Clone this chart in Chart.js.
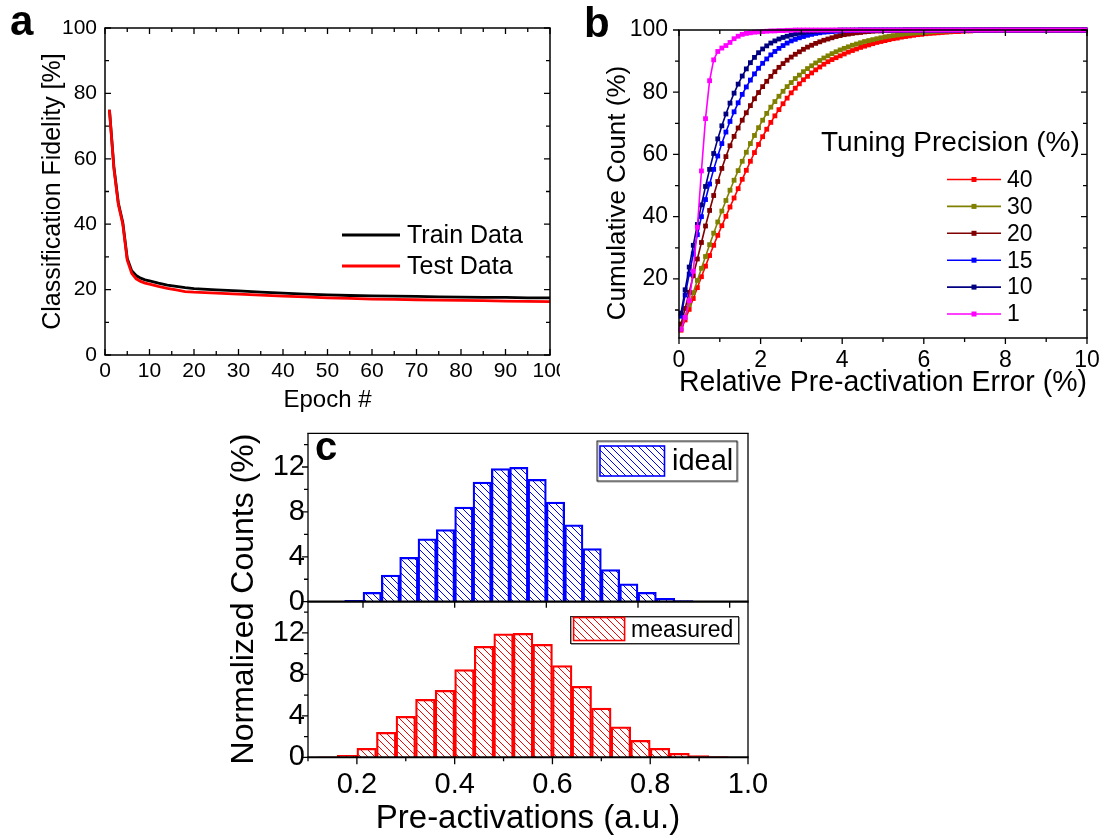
<!DOCTYPE html>
<html>
<head>
<meta charset="utf-8">
<script src="https://cdn.jsdelivr.net/npm/chart.js@4.4.0/dist/chart.umd.min.js"></script>
<style>
  html, body { margin: 0; padding: 0; background: #fff; }
  #fig { position: relative; width: 1106px; height: 839px; overflow: hidden; background: #fff; }
  #fig canvas { position: absolute; }
</style>
</head>
<body>
<div id="fig">
  <canvas id="panelA" width="560" height="420" style="left:0;top:0;width:560px;height:420px"></canvas>
  <canvas id="panelB" width="526" height="420" style="left:580px;top:0;width:526px;height:420px"></canvas>
  <canvas id="panelCLow" width="560" height="419" style="left:220px;top:420px;width:560px;height:419px"></canvas>
  <canvas id="panelCUp" width="560" height="419" style="left:220px;top:420px;width:560px;height:419px"></canvas>
</div>
<script>
const FONT = '"Liberation Sans", Arial, Helvetica, sans-serif';

// ---------- (a) training curves ----------
const epochs = [1, 2, 3, 4, 5, 6, 7, 8, 9, 10, 12, 14, 16, 18, 20, 25, 30, 35, 40, 45, 50, 55, 60, 65, 70, 75, 80, 85, 90, 95, 100];
const trainFidelity = [75, 57.5, 46.5, 40.5, 29.5, 25.8, 24.3, 23.5, 23.0, 22.7, 22.0, 21.4, 21.0, 20.6, 20.3, 19.9, 19.6, 19.2, 18.9, 18.6, 18.4, 18.2, 18.1, 18.0, 17.9, 17.8, 17.7, 17.6, 17.6, 17.5, 17.5];
const testFidelity = [75, 57, 46, 40, 29, 25, 23.3, 22.5, 22.0, 21.7, 21.0, 20.4, 19.9, 19.4, 19.2, 18.9, 18.6, 18.3, 18.0, 17.8, 17.5, 17.3, 17.1, 17.0, 16.9, 16.8, 16.7, 16.6, 16.5, 16.4, 16.3];
const epochTicks = [0, 10, 20, 30, 40, 50, 60, 70, 80, 90, 100];
const epochMinor = [5, 15, 25, 35, 45, 55, 65, 75, 85, 95];
const fidelityTicks = [0, 20, 40, 60, 80, 100];
const fidelityMinor = [10, 30, 50, 70, 90];

// ---------- (b) cumulative error distributions ----------
const errorGrid = [
  0.05, 0.15, 0.25, 0.35, 0.45, 0.55, 0.65, 0.75, 0.85, 0.95,
  1.05, 1.15, 1.25, 1.35, 1.45, 1.55, 1.65, 1.75, 1.85, 1.95,
  2.05, 2.15, 2.25, 2.35, 2.45, 2.55, 2.65, 2.75, 2.85, 2.95,
  3.05, 3.15, 3.25, 3.35, 3.45, 3.55, 3.65, 3.75, 3.85, 3.95,
  4.05, 4.15, 4.25, 4.35, 4.45, 4.55, 4.65, 4.75, 4.85, 4.95,
  5.05, 5.15, 5.25, 5.35, 5.45, 5.55, 5.65, 5.75, 5.85, 5.95,
  6.05, 6.15, 6.25, 6.35, 6.45, 6.55, 6.65, 6.75, 6.85, 6.95,
  7.05, 7.15, 7.25, 7.35, 7.45, 7.55, 7.65, 7.75, 7.85, 7.95,
  8.05, 8.15, 8.25, 8.35, 8.45, 8.55, 8.65, 8.75, 8.85, 8.95,
  9.05, 9.15, 9.25, 9.35, 9.45, 9.55, 9.65, 9.75, 9.85, 9.95
];
const precisionLabels = ['40', '30', '20', '15', '10', '1'];
const cumP40 = [
  3.5, 6.8, 10.2, 13.7, 17.2, 20.7, 24.1, 27.5, 30.8, 34.0,
  37.1, 40.1, 43.1, 46.0, 49.0, 52.0, 54.9, 57.8, 60.6, 63.2,
  65.7, 68.1, 70.3, 72.4, 74.4, 76.3, 78.1, 79.8, 81.3, 82.7,
  84.0, 85.1, 86.2, 87.2, 88.1, 89.0, 89.8, 90.5, 91.1, 91.7,
  92.3, 92.9, 93.4, 93.9, 94.4, 94.8, 95.2, 95.6, 96.0, 96.3,
  96.6, 96.9, 97.2, 97.4, 97.7, 97.9, 98.1, 98.3, 98.5, 98.6,
  98.8, 98.9, 99.0, 99.1, 99.2, 99.3, 99.4, 99.5, 99.5, 99.6,
  99.7, 99.7, 99.8, 99.8, 99.8, 99.9, 99.9, 99.9, 100, 100,
  100, 100, 100, 100, 100, 100, 100, 100, 100, 100,
  100, 100, 100, 100, 100, 100, 100, 100, 100, 100
];
const cumP30 = [
  4.0, 7.8, 11.7, 15.6, 19.5, 23.4, 27.2, 31.0, 34.7, 38.3,
  41.8, 45.2, 48.5, 51.7, 54.8, 57.8, 60.7, 63.5, 66.1, 68.6,
  71.0, 73.2, 75.2, 77.0, 78.7, 80.3, 81.8, 83.1, 84.4, 85.5,
  86.6, 87.6, 88.5, 89.4, 90.2, 91.0, 91.7, 92.4, 93.0, 93.6,
  94.1, 94.6, 95.1, 95.5, 95.9, 96.3, 96.6, 96.9, 97.2, 97.5,
  97.8, 98.0, 98.2, 98.4, 98.6, 98.8, 98.9, 99.0, 99.1, 99.2,
  99.3, 99.4, 99.5, 99.6, 99.6, 99.7, 99.7, 99.8, 99.8, 99.9,
  99.9, 99.9, 100, 100, 100, 100, 100, 100, 100, 100,
  100, 100, 100, 100, 100, 100, 100, 100, 100, 100,
  100, 100, 100, 100, 100, 100, 100, 100, 100, 100
];
const cumP20 = [
  5.5, 10.5, 15.7, 21.0, 26.4, 31.7, 37.0, 42.0, 46.8, 51.3,
  55.5, 59.3, 62.8, 65.8, 68.5, 71.0, 73.4, 75.7, 77.9, 79.9,
  81.8, 83.5, 85.1, 86.6, 88.0, 89.2, 90.3, 91.3, 92.2, 93.0,
  93.8, 94.5, 95.1, 95.7, 96.2, 96.7, 97.1, 97.5, 97.9, 98.2,
  98.5, 98.7, 98.9, 99.1, 99.2, 99.4, 99.5, 99.6, 99.7, 99.7,
  99.8, 99.8, 99.9, 99.9, 99.9, 100, 100, 100, 100, 100,
  100, 100, 100, 100, 100, 100, 100, 100, 100, 100,
  100, 100, 100, 100, 100, 100, 100, 100, 100, 100,
  100, 100, 100, 100, 100, 100, 100, 100, 100, 100,
  100, 100, 100, 100, 100, 100, 100, 100, 100, 100
];
const cumP15 = [
  8.0, 14.8, 21.5, 28.0, 34.2, 40.0, 45.5, 50.5, 55.2, 59.5,
  63.5, 67.2, 70.6, 73.7, 76.6, 79.3, 81.7, 83.9, 85.9, 87.7,
  89.3, 90.7, 92.0, 93.1, 94.1, 95.0, 95.8, 96.5, 97.0, 97.5,
  97.9, 98.3, 98.6, 98.9, 99.1, 99.3, 99.4, 99.5, 99.6, 99.7,
  99.8, 99.8, 99.9, 99.9, 100, 100, 100, 100, 100, 100,
  100, 100, 100, 100, 100, 100, 100, 100, 100, 100,
  100, 100, 100, 100, 100, 100, 100, 100, 100, 100,
  100, 100, 100, 100, 100, 100, 100, 100, 100, 100,
  100, 100, 100, 100, 100, 100, 100, 100, 100, 100,
  100, 100, 100, 100, 100, 100, 100, 100, 100, 100
];
const cumP10 = [
  9.0, 16.5, 23.8, 30.8, 37.5, 43.8, 49.7, 55.2, 60.3, 65.0,
  69.2, 73.0, 76.5, 79.7, 82.6, 85.2, 87.5, 89.5, 91.2, 92.7,
  93.9, 94.9, 95.8, 96.5, 97.1, 97.6, 98.0, 98.4, 98.7, 99.0,
  99.2, 99.4, 99.5, 99.6, 99.7, 99.8, 99.8, 99.9, 99.9, 100,
  100, 100, 100, 100, 100, 100, 100, 100, 100, 100,
  100, 100, 100, 100, 100, 100, 100, 100, 100, 100,
  100, 100, 100, 100, 100, 100, 100, 100, 100, 100,
  100, 100, 100, 100, 100, 100, 100, 100, 100, 100,
  100, 100, 100, 100, 100, 100, 100, 100, 100, 100,
  100, 100, 100, 100, 100, 100, 100, 100, 100, 100
];
const cumP1 = [
  3.8, 7.6, 13.0, 22.5, 36.6, 54.7, 71.5, 83.7, 90.4, 93.1,
  94.2, 95.0, 96.0, 97.2, 98.0, 98.6, 98.9, 99.1, 99.3, 99.4,
  99.5, 99.6, 99.7, 99.7, 99.8, 99.8, 99.9, 99.9, 100, 100,
  100, 100, 100, 100, 100, 100, 100, 100, 100, 100,
  100, 100, 100, 100, 100, 100, 100, 100, 100, 100,
  100, 100, 100, 100, 100, 100, 100, 100, 100, 100,
  100, 100, 100, 100, 100, 100, 100, 100, 100, 100,
  100, 100, 100, 100, 100, 100, 100, 100, 100, 100,
  100, 100, 100, 100, 100, 100, 100, 100, 100, 100,
  100, 100, 100, 100, 100, 100, 100, 100, 100, 100
];
const errTicks = [0, 2, 4, 6, 8, 10];
const errMinor = [1, 3, 5, 7, 9];
const cumTicks = [20, 40, 60, 80, 100];
const cumMinor = [10, 30, 50, 70, 90];

// ---------- (c) pre-activation histograms ----------
const idealBinCenters = [0.18, 0.22, 0.26, 0.30, 0.34, 0.38, 0.42, 0.46, 0.50, 0.54, 0.58, 0.62, 0.66, 0.70, 0.74, 0.78, 0.82, 0.86, 0.90];
const idealCounts = [0.12, 0.83, 2.38, 3.96, 5.6, 6.43, 8.42, 10.65, 11.85, 11.96, 10.9, 8.87, 6.85, 4.73, 2.86, 1.6, 0.83, 0.3, 0.09];
const measuredBinCenters = [0.14, 0.18, 0.22, 0.26, 0.30, 0.34, 0.38, 0.42, 0.46, 0.50, 0.54, 0.58, 0.62, 0.66, 0.70, 0.74, 0.78, 0.82, 0.86, 0.90, 0.94];
const measuredCounts = [0.05, 0.2, 0.87, 2.4, 3.95, 5.6, 6.45, 8.45, 10.7, 11.9, 11.95, 10.9, 8.85, 6.85, 4.75, 2.93, 1.64, 0.87, 0.39, 0.16, 0.06];
const countTicks = [0, 4, 8, 12];
const countMinor = [2, 6, 10, 14];
const preActTicks = [0.2, 0.4, 0.6, 0.8, 1.0];
const preActLabels = ['0.2', '0.4', '0.6', '0.8', '1.0'];
const preActMinor = [0.1, 0.3, 0.5, 0.7, 0.9];

// ---------- helpers ----------
const fixTicks = values => scale => { scale.ticks = values.map(v => ({ value: v })); };
const fixWidth = w => scale => { scale.width = w; scale.paddingTop = 0; scale.paddingBottom = 0; };
const fixHeight = h => scale => { scale.height = h; scale.paddingLeft = 0; scale.paddingRight = 0; };

function hatch(color) {
  const s = 7;
  const tile = document.createElement('canvas');
  tile.width = s; tile.height = s;
  const g = tile.getContext('2d');
  g.strokeStyle = color;
  g.lineWidth = 1;
  g.beginPath();
  g.moveTo(-1, -1); g.lineTo(s + 1, s + 1);
  g.moveTo(-1, s - 1); g.lineTo(1, s + 1);
  g.moveTo(s - 1, -1); g.lineTo(s + 1, 1);
  g.stroke();
  return g.createPattern(tile, 'repeat');
}

// Plot frame and tick marks (inward or outward) on the chart area edges.
const frameTicks = {
  id: 'frameTicks',
  afterDraw(chart, args, o) {
    const { ctx, chartArea: ca, scales } = chart;
    ctx.save();
    ctx.strokeStyle = '#000';
    ctx.lineCap = 'butt';
    (o.marks || []).forEach(m => {
      const sc = scales[m.scale];
      ctx.lineWidth = m.width || 1.3;
      ctx.beginPath();
      m.values.forEach(v => {
        const p = sc.getPixelForValue(v);
        if (m.side === 'bottom') { const d = m.out ? 1 : -1; ctx.moveTo(p, ca.bottom); ctx.lineTo(p, ca.bottom + d * m.len); }
        if (m.side === 'top') { const d = m.out ? -1 : 1; ctx.moveTo(p, ca.top); ctx.lineTo(p, ca.top + d * m.len); }
        if (m.side === 'left') { const d = m.out ? -1 : 1; ctx.moveTo(ca.left, p); ctx.lineTo(ca.left + d * m.len, p); }
        if (m.side === 'right') { const d = m.out ? 1 : -1; ctx.moveTo(ca.right, p); ctx.lineTo(ca.right + d * m.len, p); }
      });
      ctx.stroke();
    });
    const s = o.sides || {};
    const line = (w, x0, y0, x1, y1) => { if (!w) return; ctx.lineWidth = w; ctx.beginPath(); ctx.moveTo(x0, y0); ctx.lineTo(x1, y1); ctx.stroke(); };
    line(s.top, ca.left - (s.left || 0) / 2, ca.top, ca.right + (s.right || 0) / 2, ca.top);
    line(s.bottom, ca.left - (s.left || 0) / 2, ca.bottom, ca.right + (s.right || 0) / 2, ca.bottom);
    line(s.left, ca.left, ca.top, ca.left, ca.bottom);
    line(s.right, ca.right, ca.top, ca.right, ca.bottom);
    ctx.restore();
  }
};

// Bold panel letter.
const panelLetter = {
  id: 'panelLetter',
  afterDraw(chart, args, o) {
    if (!o.text) return;
    const ctx = chart.ctx;
    ctx.save();
    ctx.fillStyle = '#000';
    ctx.font = 'bold ' + o.size + 'px ' + FONT;
    ctx.textBaseline = 'alphabetic';
    ctx.textAlign = 'left';
    ctx.fillText(o.text, o.x, o.y);
    ctx.restore();
  }
};

// Line-sample legend (optionally with a square marker) drawn inside the plot.
const sampleLegend = {
  id: 'sampleLegend',
  afterDraw(chart, args, o) {
    if (!o.rows) return;
    const ctx = chart.ctx;
    ctx.save();
    if (o.title) {
      ctx.fillStyle = '#000';
      ctx.font = o.titleSize + 'px ' + FONT;
      ctx.textAlign = 'left';
      ctx.textBaseline = 'middle';
      ctx.fillText(o.title, o.titleX, o.titleY);
    }
    chart.data.datasets.forEach((ds, i) => {
      const y = o.rows[i];
      ctx.strokeStyle = ds.borderColor;
      ctx.lineWidth = o.lineWidth;
      ctx.beginPath();
      ctx.moveTo(o.x0, y); ctx.lineTo(o.x1, y);
      ctx.stroke();
      if (o.marker) {
        ctx.fillStyle = ds.borderColor;
        ctx.fillRect((o.x0 + o.x1) / 2 - o.marker / 2, y - o.marker / 2, o.marker, o.marker);
      }
      ctx.fillStyle = '#000';
      ctx.font = o.size + 'px ' + FONT;
      ctx.textAlign = 'left';
      ctx.textBaseline = 'middle';
      ctx.fillText(ds.label, o.textX, y + 1);
    });
    ctx.restore();
  }
};

// Boxed legend with a hatched swatch, for the histograms.
const swatchLegend = {
  id: 'swatchLegend',
  afterDraw(chart, args, o) {
    if (!o.box) return;
    const ctx = chart.ctx;
    const ds = chart.data.datasets[0];
    ctx.save();
    ctx.fillStyle = '#fff';
    ctx.fillRect(o.box[0], o.box[1], o.box[2], o.box[3]);
    ctx.strokeStyle = '#9a9a9a';
    ctx.lineWidth = 1;
    ctx.strokeRect(o.box[0] + 1.5, o.box[1] + 1.5, o.box[2], o.box[3]);
    ctx.strokeStyle = '#222';
    ctx.strokeRect(o.box[0] + 0.5, o.box[1] + 0.5, o.box[2], o.box[3]);
    ctx.fillStyle = ds.backgroundColor;
    ctx.fillRect(o.sw[0], o.sw[1], o.sw[2], o.sw[3]);
    ctx.strokeStyle = ds.borderColor;
    ctx.lineWidth = 1.6;
    ctx.strokeRect(o.sw[0], o.sw[1], o.sw[2], o.sw[3]);
    ctx.fillStyle = '#000';
    ctx.font = o.size + 'px ' + FONT;
    ctx.textAlign = 'left';
    ctx.textBaseline = 'middle';
    ctx.fillText(ds.label, o.textX, o.textY);
    ctx.restore();
  }
};

// Free-standing rotated axis title (used where the title is not centred on one scale).
const sideTitle = {
  id: 'sideTitle',
  afterDraw(chart, args, o) {
    if (!o.text) return;
    const ctx = chart.ctx;
    ctx.save();
    ctx.translate(o.x, o.y);
    ctx.rotate(-Math.PI / 2);
    ctx.fillStyle = '#000';
    ctx.font = o.size + 'px ' + FONT;
    ctx.textAlign = 'center';
    ctx.textBaseline = 'middle';
    ctx.fillText(o.text, 0, 0);
    ctx.restore();
  }
};

const allPlugins = [frameTicks, panelLetter, sampleLegend, swatchLegend, sideTitle];
const baseOptions = {
  responsive: false,
  animation: false,
  devicePixelRatio: 1,
  events: []
};

// ---------- (a) ----------
new Chart(document.getElementById('panelA'), {
  type: 'line',
  data: {
    datasets: [
      { label: 'Train Data', data: epochs.map((e, i) => ({ x: e, y: trainFidelity[i] })), borderColor: '#000000', borderWidth: 2.8, pointRadius: 0, order: 2 },
      { label: 'Test Data', data: epochs.map((e, i) => ({ x: e, y: testFidelity[i] })), borderColor: '#ff0000', borderWidth: 2.8, pointRadius: 0, order: 1 }
    ]
  },
  options: {
    ...baseOptions,
    layout: { padding: { left: 0, top: 28, right: 10, bottom: 0 } },
    scales: {
      x: {
        type: 'linear', min: 0, max: 100,
        afterBuildTicks: fixTicks(epochTicks), afterFit: fixHeight(65),
        grid: { display: false, drawTicks: false }, border: { display: false },
        ticks: { autoSkip: false, maxRotation: 0, padding: 4, color: '#000', font: { family: FONT, size: 21 } },
        title: { display: true, text: 'Epoch #', color: '#000', font: { family: FONT, size: 24 }, padding: { top: 0, bottom: 5 } }
      },
      y: {
        type: 'linear', min: 0, max: 100,
        afterBuildTicks: fixTicks(fidelityTicks), afterFit: fixWidth(105),
        grid: { display: false, drawTicks: false }, border: { display: false },
        ticks: { autoSkip: false, padding: 8, color: '#000', font: { family: FONT, size: 21 } },
        title: { display: true, text: 'Classification Fidelity [%]', color: '#000', font: { family: FONT, size: 25 }, padding: { top: 38, bottom: 0 } }
      }
    },
    plugins: {
      legend: { display: false }, tooltip: { enabled: false },
      frameTicks: {
        sides: { top: 1.5, right: 1.5, bottom: 1.5, left: 1.5 },
        marks: [
          { scale: 'x', side: 'bottom', values: epochTicks, len: 6 },
          { scale: 'x', side: 'bottom', values: epochMinor, len: 4 },
          { scale: 'x', side: 'top', values: epochTicks, len: 6 },
          { scale: 'x', side: 'top', values: epochMinor, len: 4 },
          { scale: 'y', side: 'left', values: fidelityTicks, len: 6 },
          { scale: 'y', side: 'left', values: fidelityMinor, len: 4 },
          { scale: 'y', side: 'right', values: fidelityTicks, len: 6 },
          { scale: 'y', side: 'right', values: fidelityMinor, len: 4 }
        ]
      },
      panelLetter: { text: 'a', x: 10, y: 35, size: 42 },
      sampleLegend: { rows: [235, 266], x0: 342, x1: 400, textX: 407, size: 25, lineWidth: 3 }
    }
  },
  plugins: allPlugins
});

// ---------- (b) ----------
const precisionColors = ['#ff0000', '#808000', '#800000', '#0000ff', '#000080', '#ff00ff'];
const cumSeries = [cumP40, cumP30, cumP20, cumP15, cumP10, cumP1];
new Chart(document.getElementById('panelB'), {
  type: 'line',
  data: {
    datasets: cumSeries.map((series, k) => ({
      label: precisionLabels[k],
      data: errorGrid.map((x, i) => ({ x: x, y: series[i] })),
      borderColor: precisionColors[k],
      backgroundColor: precisionColors[k],
      pointBackgroundColor: precisionColors[k],
      pointBorderColor: precisionColors[k],
      borderWidth: 1.6,
      pointStyle: 'rect',
      pointRadius: 3.4,
      pointBorderWidth: 0,
      clip: false,
      order: 6 - k
    }))
  },
  options: {
    ...baseOptions,
    layout: { padding: { left: 0, top: 30, right: 19, bottom: 0 } },
    scales: {
      x: {
        type: 'linear', min: 0, max: 10,
        afterBuildTicks: fixTicks(errTicks), afterFit: fixHeight(82),
        grid: { display: false, drawTicks: false }, border: { display: false },
        ticks: { autoSkip: false, maxRotation: 0, padding: 9, color: '#000', font: { family: FONT, size: 23 } },
        title: { display: true, text: 'Relative Pre-activation Error (%)', color: '#000', font: { family: FONT, size: 29 }, padding: { top: 0, bottom: 20 } }
      },
      y: {
        type: 'linear', min: 1, max: 100,
        afterBuildTicks: fixTicks(cumTicks), afterFit: fixWidth(99),
        grid: { display: false, drawTicks: false }, border: { display: false },
        ticks: { autoSkip: false, padding: 11, color: '#000', font: { family: FONT, size: 23 } }
      }
    },
    plugins: {
      legend: { display: false }, tooltip: { enabled: false },
      frameTicks: {
        sides: { top: 1.5, right: 1.5, bottom: 1.5, left: 1.5 },
        marks: [
          { scale: 'x', side: 'bottom', values: errTicks, len: 6, out: true },
          { scale: 'x', side: 'bottom', values: errMinor, len: 4, out: true },
          { scale: 'x', side: 'top', values: errTicks, len: 6 },
          { scale: 'x', side: 'top', values: errMinor, len: 4 },
          { scale: 'y', side: 'left', values: cumTicks, len: 6, out: true },
          { scale: 'y', side: 'left', values: cumMinor, len: 4, out: true },
          { scale: 'y', side: 'right', values: cumTicks, len: 6 },
          { scale: 'y', side: 'right', values: cumMinor, len: 4 }
        ]
      },
      panelLetter: { text: 'b', x: 4, y: 37, size: 42 },
      sideTitle: { text: 'Cumulative Count (%)', x: 38, y: 193, size: 26 },
      sampleLegend: {
        title: 'Tuning Precision (%)', titleSize: 28, titleX: 241, titleY: 143,
        rows: [179.5, 206.4, 233.3, 260.2, 287.1, 314], x0: 367, x1: 421, textX: 427, size: 23, lineWidth: 1.6, marker: 5
      }
    }
  },
  plugins: allPlugins
});

// ---------- (c) lower: measured ----------
const redHatch = hatch('#ff0000');
const blueHatch = hatch('#0000ff');
new Chart(document.getElementById('panelCLow'), {
  type: 'bar',
  data: {
    datasets: [{
      label: 'measured',
      data: measuredBinCenters.map((x, i) => ({ x: x, y: measuredCounts[i] })),
      backgroundColor: redHatch, borderColor: '#ff0000', borderWidth: 1.6,
      barPercentage: 1, categoryPercentage: 1, grouped: false
    }]
  },
  options: {
    ...baseOptions,
    layout: { padding: { left: 0, top: 181.7, right: 32, bottom: 0 } },
    scales: {
      x: {
        type: 'linear', min: 0.1, max: 1.0, offset: false,
        afterBuildTicks: fixTicks(preActTicks), afterFit: fixHeight(81.7),
        grid: { display: false, drawTicks: false }, border: { display: false },
        ticks: { autoSkip: false, maxRotation: 0, padding: 10, color: '#000', font: { family: FONT, size: 29 }, callback: (v, i) => preActLabels[i] },
        title: { display: true, text: 'Pre-activations (a.u.)', color: '#000', font: { family: FONT, size: 33 }, padding: { top: 0, bottom: 0 } }
      },
      y: {
        type: 'linear', min: 0, max: 15,
        afterBuildTicks: fixTicks(countTicks), afterFit: fixWidth(88),
        grid: { display: false, drawTicks: false }, border: { display: false },
        ticks: { autoSkip: false, padding: 3, color: '#000', font: { family: FONT, size: 29 } }
      }
    },
    plugins: {
      legend: { display: false }, tooltip: { enabled: false },
      frameTicks: {
        sides: { left: 1.3, right: 1.3, bottom: 2 },
        marks: [
          { scale: 'x', side: 'bottom', values: preActTicks, len: 7, out: true },
          { scale: 'x', side: 'bottom', values: preActMinor, len: 4, out: true },
          { scale: 'y', side: 'left', values: countTicks, len: 6, out: true },
          { scale: 'y', side: 'left', values: countMinor, len: 4, out: true }
        ]
      },
      swatchLegend: { box: [350, 196, 168, 27], sw: [353.6, 197.5, 51, 23], textX: 411, textY: 210.5, size: 23 },
      sideTitle: { text: 'Normalized Counts (%)', x: 24, y: 179, size: 32 }
    }
  },
  plugins: allPlugins
});

// ---------- (c) upper: ideal ----------
new Chart(document.getElementById('panelCUp'), {
  type: 'bar',
  data: {
    datasets: [{
      label: 'ideal',
      data: idealBinCenters.map((x, i) => ({ x: x, y: idealCounts[i] })),
      backgroundColor: blueHatch, borderColor: '#0000ff', borderWidth: 1.6,
      barPercentage: 1, categoryPercentage: 1, grouped: false
    }]
  },
  options: {
    ...baseOptions,
    layout: { padding: { left: 0, top: 13.3, right: 32, bottom: 0 } },
    scales: {
      x: {
        type: 'linear', min: 0.08, max: 1.04, offset: false,
        afterBuildTicks: fixTicks(preActTicks), afterFit: fixHeight(237.3),
        grid: { display: false, drawTicks: false }, border: { display: false },
        ticks: { display: false }
      },
      y: {
        type: 'linear', min: 0, max: 15,
        afterBuildTicks: fixTicks(countTicks), afterFit: fixWidth(88),
        grid: { display: false, drawTicks: false }, border: { display: false },
        ticks: { autoSkip: false, padding: 3, color: '#000', font: { family: FONT, size: 29 } }
      }
    },
    plugins: {
      legend: { display: false }, tooltip: { enabled: false },
      frameTicks: {
        sides: { top: 1.3, left: 1.3, right: 1.3, bottom: 2.2 },
        marks: [
          { scale: 'x', side: 'bottom', values: preActTicks, len: 6, out: true },
          { scale: 'y', side: 'left', values: countTicks, len: 6, out: true },
          { scale: 'y', side: 'left', values: countMinor, len: 4, out: true }
        ]
      },
      panelLetter: { text: 'c', x: 95, y: 40, size: 40 },
      swatchLegend: { box: [376.5, 20.5, 140, 40], sw: [380, 26, 64.5, 30], textX: 452, textY: 42, size: 29 }
    }
  },
  plugins: allPlugins
});
</script>
</body>
</html>
